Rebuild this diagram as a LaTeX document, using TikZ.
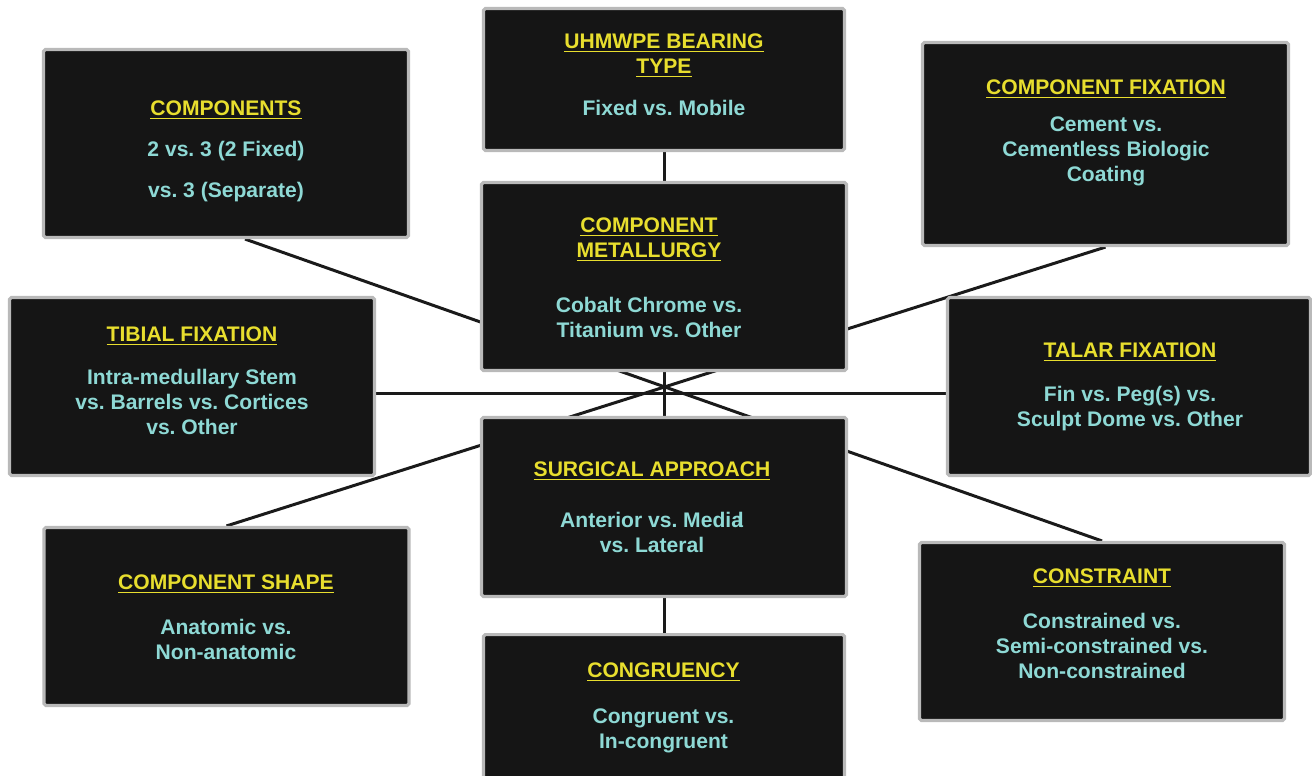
\documentclass[tikz,border=0pt]{standalone}
\usepackage{fontspec}
\setmainfont{Liberation Sans}
\usetikzlibrary{backgrounds}
\frenchspacing

\definecolor{boxfill}{HTML}{151515}
\definecolor{boxrim}{HTML}{B9B9B9}
\definecolor{headyellow}{HTML}{E8DE2E}
\definecolor{bodycyan}{HTML}{8ED9D5}
\definecolor{linkgray}{HTML}{1A1A1A}

\newcommand{\head}[1]{\textcolor{headyellow}{\underline{#1}}}

\begin{document}
\begin{tikzpicture}[
	x=0.02cm, y=-0.02cm,
	box/.style={draw=boxrim, line width=1.8pt, fill=boxfill, rounded corners=1pt, inner sep=0pt, minimum width=7.3cm, minimum height=3.56cm},
	txt/.style={align=center, text=bodycyan, font=\bfseries\fontsize{12}{14.2}\selectfont},
	link/.style={draw=linkgray, line width=1.7pt}
]
\useasboundingbox (0,0) rectangle (1312,775);

% Boxes
\node[box, minimum width=7.22cm, minimum height=2.84cm] (bearing) at (664,79.5) {};
\node[box, minimum height=3.76cm] (components) at (226,143.5) {};
\node[box, minimum width=7.32cm, minimum height=4.06cm] (fixation) at (1105.5,144) {};
\node[box, minimum height=3.76cm] (metallurgy) at (664,276.5) {};
\node[box] (tibial) at (192,386.5) {};
\node[box, minimum width=7.26cm] (talar) at (1129,386.5) {};
\node[box, minimum height=3.58cm] (approach) at (664,507) {};
\node[box] (shape) at (226.5,616.5) {};
\node[box] (constraint) at (1102,631.5) {};
\node[box, minimum width=7.22cm] (congruency) at (664,723.6) {};

% Texts
\node[txt] (bearingtxt) at (664,75) {\head{UHMWPE BEARING}\\\head{TYPE}\\[9.6pt]Fixed vs. Mobile};
\node[txt] (componentstxt) at (226,151.5) {\head{COMPONENTS}\\[9pt]2 vs. 3 (2 Fixed)\\[9.6pt]vs. 3 (Separate)};
\node[txt] (fixationtxt) at (1106,133) {\head{COMPONENT FIXATION}\\[6.8pt]Cement vs.\\Cementless Biologic\\Coating};
\node[txt] (metallurgytxt) at (649,277.5) {\head{COMPONENT}\\\head{METALLURGY}\\[17pt]Cobalt Chrome vs.\\Titanium vs. Other};
\node[txt] (tibialtxt) at (192,381) {\head{TIBIAL FIXATION}\\[10.2pt]Intra-medullary Stem\\vs. Barrels vs. Cortices\\vs. Other};
\node[txt] (talartxt) at (1130,386.5) {\head{TALAR FIXATION}\\[10.8pt]Fin vs. Peg(s) vs.\\Sculpt Dome vs. Other};
\node[txt] (approachtxt) at (652,507.5) {\head{SURGICAL APPROACH}\\[14.7pt]Anterior vs. Media\kern-.24em l\\vs. Lateral};
\node[txt] (shapetxt) at (226,617) {\head{COMPONENT SHAPE}\\[11.3pt]Anatomic vs.\\Non-anatomic};
\node[txt] (constrainttxt) at (1102,624) {\head{CONSTRAINT}\\[11.3pt]Constrained vs.\\Semi-constrained vs.\\Non-constrained};
\node[txt] (congruencytxt) at (663.5,707.5) {\head{CONGRUENCY}\\[11.9pt]Congruent vs.\\In-congruent};

% Connectors
\begin{scope}[on background layer]
\draw[link] (bearing.south) -- (congruency.north);
\draw[link] ([yshift=-0.13cm]tibial.east) -- ([yshift=-0.13cm]talar.west);
\draw[link] ([xshift=0.38cm]components.south) -- (constraint.north);
\draw[link] (fixation.south) -- (shape.north);
\end{scope}

\end{tikzpicture}
\end{document}
